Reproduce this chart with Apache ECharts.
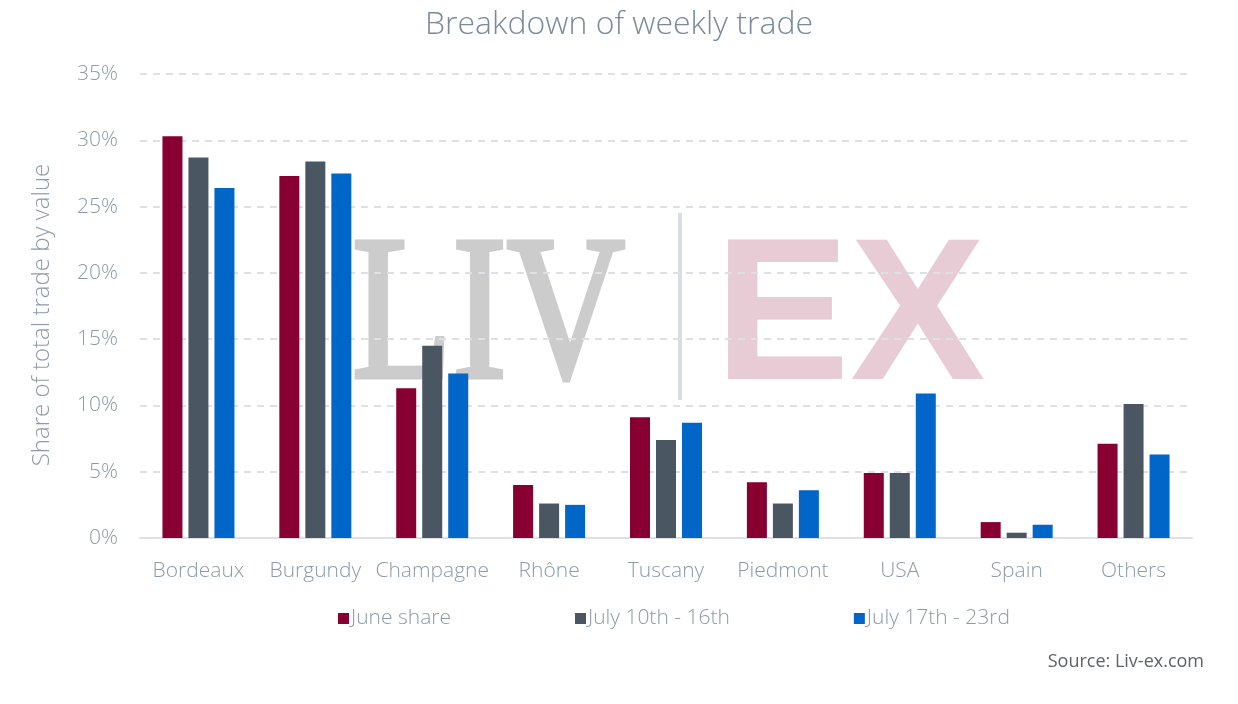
<!DOCTYPE html>
<html>
<head>
<meta charset="utf-8">
<script src="https://cdn.jsdelivr.net/npm/echarts@6/dist/echarts.min.js"></script>
<style>
  html, body { margin: 0; padding: 0; background: #fff; }
  #chart { width: 1238px; height: 704px; }
</style>
</head>
<body>
<div id="chart"></div>
<script>
// values, % share of total trade by value
const regions = ["Bordeaux", "Burgundy", "Champagne", "Rhône", "Tuscany", "Piedmont", "USA", "Spain", "Others"];
const juneShare = [30.3, 27.3, 11.3, 4.0, 9.1, 4.2, 4.9, 1.2, 7.1];
const july10to16 = [28.7, 28.4, 14.5, 2.6, 7.4, 2.6, 4.9, 0.4, 10.1];
const july17to23 = [26.4, 27.5, 12.4, 2.5, 8.7, 3.6, 10.9, 1.0, 6.3];

const seriesNames = ["June share", "July 10th - 16th", "July 17th - 23rd"];
const seriesColors = ["#870031", "#4a5661", "#0066c8"];

const font = "Open Sans";
const textGrey = "#8d9aa7";

let chart = echarts.init(document.getElementById("chart"));

let mkBar = (name, data, color) => ({
  name: name,
  type: "bar",
  data: data,
  barWidth: 20,
  barGap: "30%",
  itemStyle: { color: color },
  z: 5
});

chart.setOption({
  animation: false,
  title: {
    text: "Breakdown of weekly trade",
    left: "center",
    top: 4,
    textStyle: { fontFamily: font, fontWeight: 300, fontSize: 32, color: "#7b8a99" }
  },
  grid: { left: 140, right: 46, top: 74, bottom: 166 },
  legend: {
    bottom: 70,
    left: 333,
    itemGap: 124,
    itemWidth: 11,
    itemHeight: 11,
    icon: "rect",
    textStyle: { fontFamily: font, fontWeight: 300, fontSize: 21, color: textGrey, padding: [0, 0, 0, -3] },
    data: seriesNames
  },
  xAxis: {
    type: "category",
    data: regions,
    axisLine: { lineStyle: { color: "#dde1e5", width: 2 } },
    axisTick: { show: false },
    axisLabel: { interval: 0, fontFamily: font, fontWeight: 300, fontSize: 21, color: textGrey, margin: 23 }
  },
  yAxis: {
    type: "value",
    min: 0,
    max: 35,
    interval: 5,
    name: "Share of total trade by value",
    nameLocation: "middle",
    nameGap: 86,
    nameTextStyle: { fontFamily: font, fontWeight: 300, fontSize: 24, color: textGrey, padding: [0, 18, 0, 0] },
    axisLine: { show: false },
    axisTick: { show: false },
    axisLabel: { formatter: "{value}%", fontFamily: font, fontWeight: 300, fontSize: 21, color: textGrey, margin: 22 },
    splitLine: { lineStyle: { color: "#dde1e5", width: 2, type: [7, 6] } }
  },
  graphic: [
    {
      type: "text",
      z: -10,
      x: 850, y: 323,
      style: { text: "EX", font: "bold 203px 'Liberation Sans'", fill: "#e8ccd5", textAlign: "center", textVerticalAlign: "middle" }
    },
    {
      type: "rect",
      z: -10,
      shape: { x: 678, y: 213, width: 4, height: 187 },
      style: { fill: "#d9dde1" }
    },
    {
      // regular weight + stroke, the bold serif messes up the EX font
      type: "text",
      z: -10,
      x: 352, y: 323,
      scaleX: 0.8,
      style: { text: "LIV", font: "205px 'Liberation Serif'", fill: "#cccccc", stroke: "#cccccc", lineWidth: 5, textAlign: "left", textVerticalAlign: "middle" }
    },
    {
      type: "text",
      x: 1204, y: 662,
      style: { text: "Source: Liv-ex.com", fontFamily: font, fontSize: 18, fill: "#5f6266", textAlign: "right", textVerticalAlign: "middle" }
    }
  ],
  series: [
    mkBar(seriesNames[0], juneShare, seriesColors[0]),
    mkBar(seriesNames[1], july10to16, seriesColors[1]),
    mkBar(seriesNames[2], july17to23, seriesColors[2])
  ]
});
</script>
</body>
</html>
